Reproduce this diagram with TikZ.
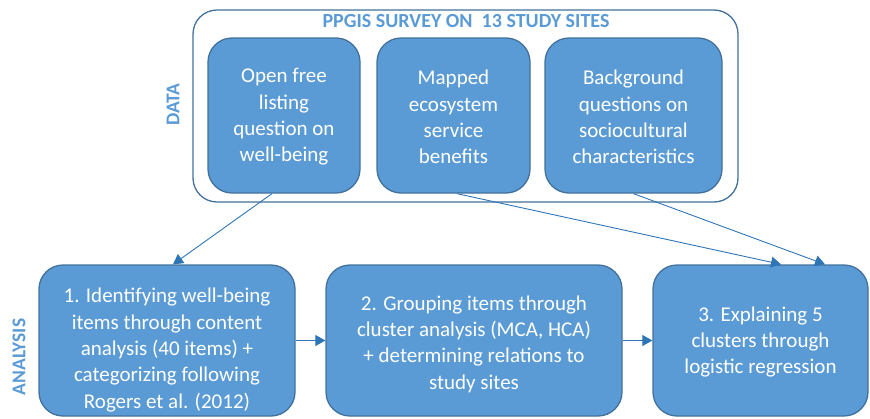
\documentclass[tikz,border=0pt]{standalone}
\usepackage{fontspec}
\setmainfont{Carlito}
\usetikzlibrary{arrows.meta,calc}
\definecolor{boxfill}{HTML}{5B9BD5}
\definecolor{boxline}{HTML}{41719C}
\definecolor{arrowc}{HTML}{2E75B6}
\definecolor{labc}{HTML}{5B9BD5}
\tikzset{
  bluebox/.style={draw=boxline, line width=1.3pt, fill=boxfill, rounded corners=24pt, inner sep=0pt},
  boxtext/.style={text=white, align=center, font=\fontsize{21}{26.3}\selectfont, inner sep=0pt},
  outerbox/.style={draw=boxline, line width=1.3pt, fill=white, rounded corners=24pt, inner sep=0pt},
  conn/.style={draw=arrowc, line width=0.9pt, -{Triangle[width=11pt,length=10pt]}},
  sidelab/.style={text=labc, font=\fontsize{19.5}{22}\selectfont\bfseries, rotate=90},
}
\begin{document}
\begin{tikzpicture}[x=1pt,y=-1pt]
\useasboundingbox (0,0) rectangle (870,418);
\node[outerbox, minimum width=545pt, minimum height=192pt] (outer) at (465.5,106) {};
\node[text=labc, font=\fontsize{20}{24}\selectfont\bfseries] (title) at (466,21) {PPGIS SURVEY ON\ \ 13 STUDY SITES};
\node[sidelab] (data) at (173,104.5) {DATA};
\node[sidelab] (analysis) at (19,357) {ANALYSIS};

\node[bluebox, minimum width=152pt, minimum height=155pt] (b1) at (284,115.5) {};
\node[bluebox, minimum width=153pt, minimum height=155pt] (b2) at (453.5,115.5) {};
\node[bluebox, minimum width=177pt, minimum height=155pt] (b3) at (633.5,115.5) {};
\node[boxtext] (t1) at (284,117) {Open free\\listing\\question on\\well-being};
\node[boxtext] (t2) at (453.5,117) {Mapped\\ecosystem\\service\\benefits};
\node[boxtext] (t3) at (633.5,117) {Background\\questions on\\sociocultural\\characteristics};

\node[bluebox, minimum width=256pt, minimum height=151pt] (a1) at (167,340.5) {};
\node[bluebox, minimum width=296pt, minimum height=151pt] (a2) at (474,340.5) {};
\node[bluebox, minimum width=215pt, minimum height=151pt] (a3) at (760.5,340.5) {};
\node[boxtext] (s1) at (167,350) {1. Identifying well-being\\items through content\\analysis (40 items) +\\categorizing following\\Rogers et al. (2012)};
\node[boxtext] (s2) at (474,344) {2. Grouping items through\\cluster analysis (MCA, HCA)\\+ determining relations to\\study sites};
\node[boxtext] (s3) at (760.5,342) {3. Explaining 5\\clusters through\\logistic regression};

\draw[conn] ([xshift=-12pt]b1.south) -- ([xshift=6pt]a1.north);
\draw[conn] ([xshift=3.5pt]b2.south) -- ([xshift=20.5pt]a3.north);
\draw[conn] (b3.south) -- ([xshift=64.5pt]a3.north);
\draw[conn] (a1.east) -- (a2.west);
\draw[conn] (a2.east) -- (a3.west);
\end{tikzpicture}
\end{document}
